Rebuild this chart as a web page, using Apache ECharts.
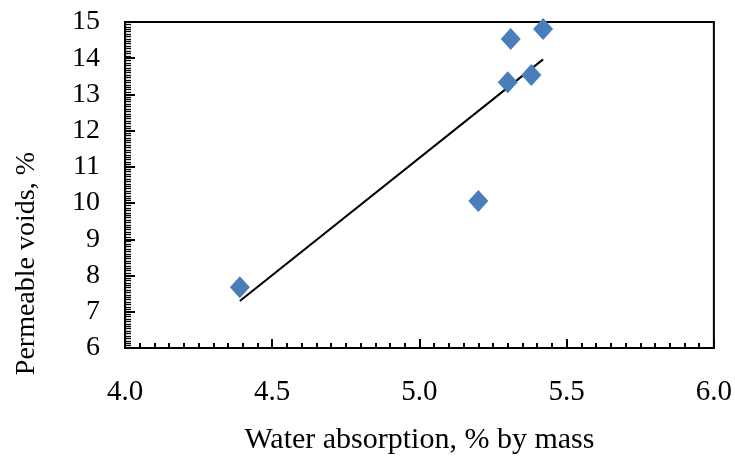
<!DOCTYPE html>
<html>
<head>
<meta charset="utf-8">
<script src="https://cdn.jsdelivr.net/npm/echarts@6/dist/echarts.min.js"></script>
<style>
  html, body { margin: 0; padding: 0; background: #fff; }
  #chart { width: 735px; height: 465px; }
</style>
</head>
<body>
<div id="chart"></div>
<script>
// Water absorption (% by mass) vs permeable voids (%)
const waterAbsorption = [4.39, 5.20, 5.30, 5.31, 5.38, 5.42];
const permeableVoids  = [7.68, 10.06, 13.34, 14.53, 13.54, 14.81];
const xTickLabels = ['4.0', '4.5', '5.0', '5.5', '6.0'];
const yTickLabels = ['6', '7', '8', '9', '10', '11', '12', '13', '14', '15'];

// Least-squares linear trend line over the measured range
function linearFit(xs, ys) {
  const n = xs.length;
  const mx = xs.reduce((a, b) => a + b, 0) / n;
  const my = ys.reduce((a, b) => a + b, 0) / n;
  let sxy = 0, sxx = 0;
  for (let i = 0; i < n; i++) {
    sxy += (xs[i] - mx) * (ys[i] - my);
    sxx += (xs[i] - mx) * (xs[i] - mx);
  }
  const slope = sxy / sxx;
  return { slope, intercept: my - slope * mx };
}
const fit = linearFit(waterAbsorption, permeableVoids);
const xLo = Math.min(...waterAbsorption);
const xHi = Math.max(...waterAbsorption);
const trend = [
  [xLo, fit.intercept + fit.slope * xLo],
  [xHi, fit.intercept + fit.slope * xHi]
];

const font = '"Liberation Serif", "Times New Roman", serif';
const chart = echarts.init(document.getElementById('chart'));
chart.setOption({
  animation: false,
  grid: {
    left: 125, right: 21, top: 22, bottom: 117,
    show: true, borderColor: '#000', borderWidth: 2, backgroundColor: 'transparent'
  },
  xAxis: {
    type: 'value', min: 4, max: 6, interval: 0.5,
    name: 'Water absorption, % by mass',
    nameLocation: 'middle', nameGap: 77,
    nameTextStyle: { fontFamily: font, fontSize: 30, color: '#000' },
    axisLine: { show: true, lineStyle: { color: '#000', width: 2 } },
    axisTick: { show: true, inside: true, length: 9, lineStyle: { color: '#000', width: 2 } },
    minorTick: { show: true, splitNumber: 10, length: 5, lineStyle: { color: '#000', width: 2 } },
    splitLine: { show: false },
    axisLabel: {
      margin: 30, fontFamily: font, fontSize: 29, color: '#000',
      formatter: (v) => xTickLabels[Math.round((v - 4) / 0.5)]
    }
  },
  yAxis: {
    type: 'value', min: 6, max: 15, interval: 1,
    axisLine: { show: true, lineStyle: { color: '#000', width: 2 } },
    axisTick: { show: true, inside: true, length: 10, lineStyle: { color: '#000', width: 2 } },
    minorTick: { show: true, splitNumber: 15, length: 6, lineStyle: { color: '#000', width: 1.3 } },
    splitLine: { show: false },
    axisLabel: {
      margin: 25, fontFamily: font, fontSize: 28, color: '#000',
      formatter: (v) => yTickLabels[Math.round(v - 6)]
    }
  },
  graphic: [{
    type: 'text', left: 13, top: 152, rotation: Math.PI / 2,
    style: { text: 'Permeable voids, %', font: '28px ' + font, fill: '#000' }
  }],
  series: [
    {
      type: 'line', data: trend, showSymbol: false, symbol: 'none',
      lineStyle: { color: '#000', width: 2 }, z: 2
    },
    {
      type: 'scatter',
      data: waterAbsorption.map((x, i) => [x, permeableVoids[i]]),
      symbol: 'diamond', symbolSize: [20, 22],
      itemStyle: { color: '#4a7ebb', opacity: 1 }, z: 3
    }
  ]
});
</script>
</body>
</html>
